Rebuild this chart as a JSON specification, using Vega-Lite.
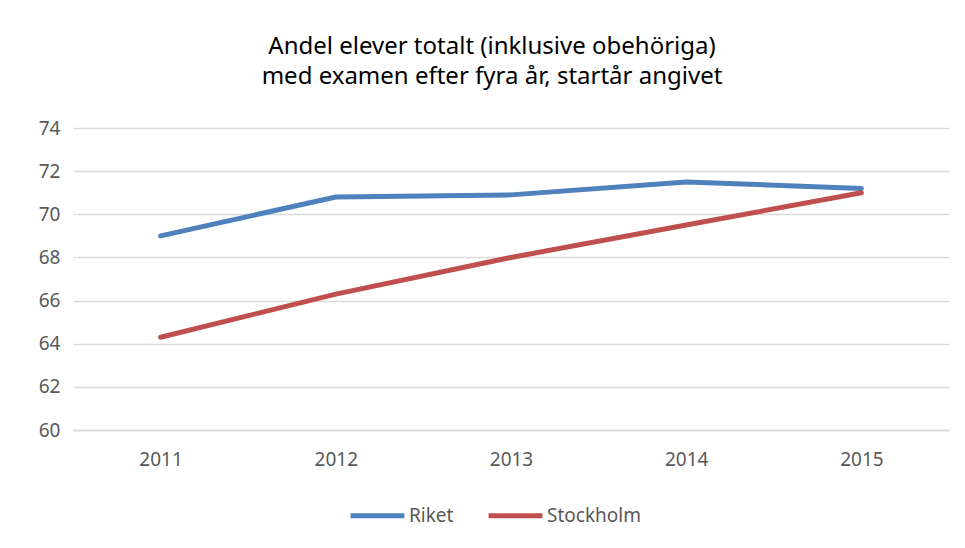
{
  "$schema": "https://vega.github.io/schema/vega-lite/v6.json",
  "width": 876,
  "height": 302,
  "autosize": {"type": "none"},
  "padding": {"left": 73, "top": 128, "right": 16, "bottom": 118},
  "background": "white",
  "title": {
    "text": ["Andel elever totalt (inklusive obehöriga)", "med examen efter fyra år, startår angivet"],
    "anchor": "middle",
    "frame": "group",
    "dx": -19,
    "offset": 30,
    "font": "Noto Sans",
    "fontSize": 24,
    "fontWeight": "normal",
    "color": "#000000",
    "lineHeight": 30
  },
  "data": {
    "values": [
      {"year": "2011", "series": "Riket", "value": 69.0},
      {"year": "2012", "series": "Riket", "value": 70.8},
      {"year": "2013", "series": "Riket", "value": 70.9},
      {"year": "2014", "series": "Riket", "value": 71.5},
      {"year": "2015", "series": "Riket", "value": 71.2},
      {"year": "2011", "series": "Stockholm", "value": 64.3},
      {"year": "2012", "series": "Stockholm", "value": 66.3},
      {"year": "2013", "series": "Stockholm", "value": 68.0},
      {"year": "2014", "series": "Stockholm", "value": 69.5},
      {"year": "2015", "series": "Stockholm", "value": 71.0}
    ]
  },
  "mark": {"type": "line", "strokeWidth": 5, "strokeCap": "round", "strokeJoin": "round"},
  "encoding": {
    "x": {
      "field": "year",
      "type": "ordinal",
      "scale": {"type": "point", "padding": 0.5},
      "axis": {
        "title": null,
        "labelAngle": 0,
        "ticks": false,
        "domain": true,
        "domainColor": "#d9d9d9",
        "domainWidth": 1.5,
        "labelPadding": 20,
        "grid": false
      }
    },
    "y": {
      "field": "value",
      "type": "quantitative",
      "scale": {"domain": [60, 74], "nice": false, "zero": false},
      "axis": {
        "title": null,
        "values": [60, 62, 64, 66, 68, 70, 72, 74],
        "domain": false,
        "ticks": false,
        "labelPadding": 13,
        "gridColor": "#d9d9d9",
        "gridWidth": 1.5
      }
    },
    "color": {
      "field": "series",
      "type": "nominal",
      "scale": {"domain": ["Riket", "Stockholm"], "range": ["#4f81bd", "#c0504d"]},
      "legend": {
        "title": null,
        "orient": "none",
        "legendX": 275,
        "legendY": 358,
        "direction": "horizontal",
        "symbolType": "stroke",
        "symbolSize": 2900,
        "symbolStrokeWidth": 5,
        "columnPadding": 24,
        "labelOffset": 2
      }
    }
  },
  "config": {
    "view": {"stroke": null},
    "axis": {"labelFont": "Noto Sans", "labelFontSize": 19, "labelColor": "#595959"},
    "legend": {"labelFont": "Noto Sans", "labelFontSize": 19, "labelColor": "#595959"}
  }
}
